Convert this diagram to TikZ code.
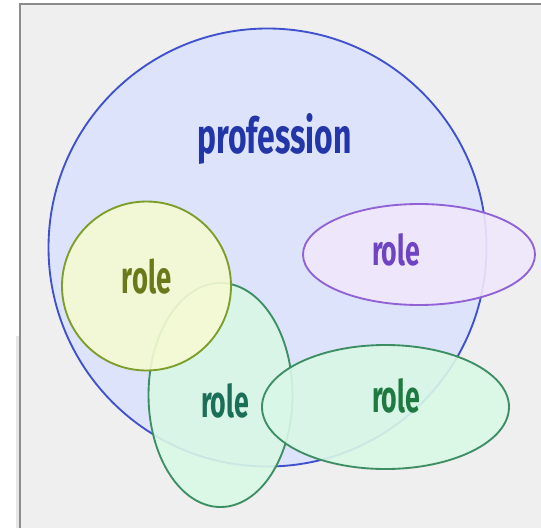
\documentclass[tikz,border=0pt]{standalone}
\usepackage{fontspec}
\setmainfont{Fira Sans}
\usepackage{graphicx}
\definecolor{bgc}{HTML}{EFEFEF}
\definecolor{framec}{HTML}{8C8C8C}
\definecolor{stripc}{HTML}{E6E6E6}
\definecolor{blueF}{HTML}{DAE2FC}
\definecolor{blueD}{HTML}{3F51CC}
\definecolor{blueT}{HTML}{2336A8}
\definecolor{yelF}{HTML}{F5FAD2}
\definecolor{yelD}{HTML}{7C9E2A}
\definecolor{yelT}{HTML}{6A7A1A}
\definecolor{grnF}{HTML}{D9F8E6}
\definecolor{grnD}{HTML}{3D8F63}
\definecolor{grnT}{HTML}{1B6F58}
\definecolor{grnT2}{HTML}{1E7A40}
\definecolor{purF}{HTML}{F0E8FD}
\definecolor{purD}{HTML}{9062D6}
\definecolor{purT}{HTML}{6E44C4}
\tikzset{
  shapebox/.style={line width=1.4pt, fill opacity=0.9},
  lbl/.style={inner sep=0pt, anchor=base, font=\bfseries},
}
\newcommand{\rolelbl}[2]{\resizebox{#1}{#2}{role}}
\begin{document}
\begin{tikzpicture}[x=0.75pt,y=-0.75pt]
\useasboundingbox (0,0) rectangle (541,528);
\fill[white] (0,0) rectangle (541,528);
\fill[bgc] (20,4) rectangle (541,528);
\fill[stripc] (15.5,336) rectangle (19,528);
\draw[framec, line width=1.5pt] (20,528) -- (20,4) -- (541,4);
% shapes
\draw[shapebox, draw=blueD, fill=blueF] (267.5,247.5) circle [radius=219] coordinate (prof);
\draw[shapebox, draw=grnD, fill=grnF] (220.5,395) ellipse [x radius=72, y radius=112];
\draw[shapebox, draw=yelD, fill=yelF] (146.5,286) circle [radius=84.5];
\draw[shapebox, draw=grnD, fill=grnF] (385.5,407) ellipse [x radius=123.5, y radius=62];
\draw[shapebox, draw=purD, fill=purF] (419,254.5) ellipse [x radius=116, y radius=50.5];
% labels
\node[lbl, text=blueT] (tprof) at (274.5,153) {\resizebox{116pt}{30pt}{profession}};
\node[lbl, text=yelT] (tyel) at (146.5,293) {\rolelbl{37pt}{26pt}};
\node[lbl, text=grnT] (tgv) at (225,417) {\rolelbl{36pt}{25.5pt}};
\node[lbl, text=grnT2] (tgh) at (396,412) {\rolelbl{36pt}{25.5pt}};
\node[lbl, text=purT] (tpur) at (396,265) {\rolelbl{36pt}{24pt}};
\end{tikzpicture}
\end{document}
